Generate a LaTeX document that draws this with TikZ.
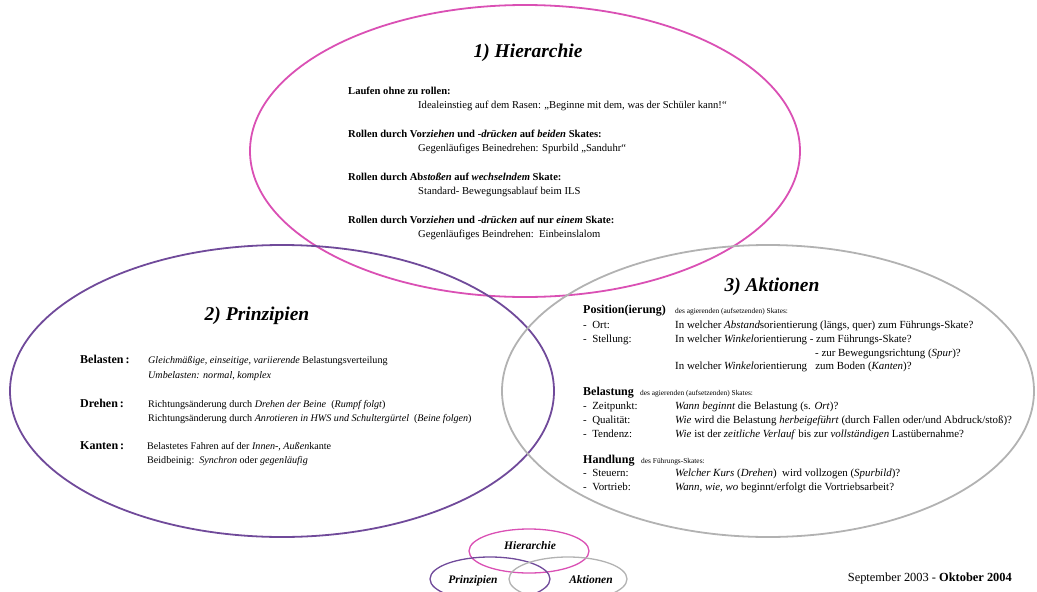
\documentclass[tikz,border=0pt]{standalone}
\usepackage{fontspec}
\setmainfont{Liberation Serif}
\definecolor{pinkc}{RGB}{218,80,180}
\definecolor{purplec}{RGB}{112,74,154}
\definecolor{grayc}{RGB}{178,178,178}
\begin{document}
\begin{tikzpicture}[x=1pt,y=-1pt,
  ring/.style={line width=1.8pt},
  title/.style={font=\fontsize{19.5}{22}\selectfont\bfseries\itshape, anchor=base},
  txth/.style={font=\fontsize{10.6}{12}\selectfont, anchor=base west, inner sep=0pt},
  txtp/.style={font=\fontsize{10.1}{12}\selectfont, anchor=base west, inner sep=0pt},
  txta/.style={font=\fontsize{10.9}{12}\selectfont, anchor=base west, inner sep=0pt},
  head/.style={font=\fontsize{10.6}{12}\selectfont\bfseries, anchor=base west, inner sep=0pt},
  bighead/.style={font=\fontsize{12}{14}\selectfont\bfseries, anchor=base west, inner sep=0pt},
  small/.style={font=\fontsize{7.4}{8}\selectfont, anchor=base west, inner sep=0pt},
  leg/.style={font=\fontsize{11.5}{13}\selectfont\bfseries\itshape, anchor=base},
  sm/.style={line width=1.3pt}]
\useasboundingbox (0,0) rectangle (1037,592);
% main ellipses
\draw[ring, pinkc] (525,151) ellipse [x radius=275, y radius=146];
\draw[ring, purplec] (282,391) ellipse [x radius=272, y radius=146];
\draw[ring, grayc] (768,391) ellipse [x radius=266, y radius=146];
% 1) Hierarchie
\node[title] (t1) at (528,57) {1) Hierarchie};
\node[head] (h1) at (348,94) {Laufen ohne zu rollen:};
\node[txth] (h1a) at (418,108) {Idealeinstieg auf dem Rasen: „Beginne mit dem, was der Schüler kann!“};
\node[head] (h2) at (348,137) {Rollen durch Vor\textit{ziehen} und \textit{-drücken} auf \textit{beiden} Skates:};
\node[txth] (h2a) at (418,151) {Gegenläufiges Beinedrehen: Spurbild „Sanduhr“};
\node[head] (h3) at (348,180) {Rollen durch Ab\textit{stoßen} auf \textit{wechselndem} Skate:};
\node[txth] (h3a) at (418,194) {Standard- Bewegungsablauf beim ILS};
\node[head] (h4) at (348,223) {Rollen durch Vor\textit{ziehen} und \textit{-drücken} auf nur \textit{einem} Skate:};
\node[txth] (h4a) at (418,237) {Gegenläufiges Beindrehen:\ \ Einbeinslalom};
% 2) Prinzipien
\node[title] (t2) at (257,320) {2) Prinzipien};
\node[bighead] (p1) at (80,363) {Belasten\,:};
\node[txtp] (p1a) at (148,363) {\textit{Gleichmäßige, einseitige, variierende} Belastungsverteilung};
\node[txtp] (p1b) at (148,378) {\textit{Umbelasten: normal}, \textit{komplex}};
\node[bighead] (p2) at (80,407) {Drehen\,:};
\node[txtp] (p2a) at (148,407) {Richtungsänderung durch \textit{Drehen der Beine}\ \ (\textit{Rumpf folgt})};
\node[txtp] (p2b) at (148,421) {Richtungsänderung durch \textit{Anrotieren in HWS und Schultergürtel}\ \ (\textit{Beine folgen})};
\node[bighead] (p3) at (80,449) {Kanten\,:};
\node[txtp] (p3a) at (147,449) {Belastetes Fahren auf der \textit{Innen-}, \textit{Außen}kante};
\node[txtp] (p3b) at (147,463) {Beidbeinig:\ \ \textit{Synchron} oder \textit{gegenläufig}};
% 3) Aktionen
\node[title] (t3) at (772,291) {3) Aktionen};
\node[bighead] (a1) at (583,313) {Position(ierung)};
\node[small] (a1s) at (675,313) {des agierenden (aufsetzenden) Skates:};
\node[txta] (a1l1) at (583,328) {-\ \ Ort:};
\node[txta] (a1t1) at (675,328) {In welcher \textit{Abstand}sorientierung (längs, quer) zum Führungs-Skate?};
\node[txta] (a1l2) at (583,342) {-\ \ Stellung:};
\node[txta] (a1t2) at (675,342) {In welcher \textit{Winkel}orientierung - zum Führungs-Skate?};
\node[txta] (a1t3) at (815,356) {- zur Bewegungsrichtung (\textit{Spur})?};
\node[txta] (a1t4) at (675,369) {In welcher \textit{Winkel}orientierung\ \ \ zum Boden (\textit{Kanten})?};
\node[bighead] (a2) at (583,395) {Belastung};
\node[small] (a2s) at (640,395) {des agierenden (aufsetzenden) Skates:};
\node[txta] (a2l1) at (583,409) {-\ \ Zeitpunkt:};
\node[txta] (a2t1) at (675,409) {\textit{Wann beginnt} die Belastung (s. \textit{Ort})?};
\node[txta] (a2l2) at (583,423) {-\ \ Qualität:};
\node[txta] (a2t2) at (675,423) {\textit{Wie} wird die Belastung \textit{herbeigeführt} (durch Fallen oder/und Abdruck/stoß)?};
\node[txta] (a2l3) at (583,437) {-\ \ Tendenz:};
\node[txta] (a2t3) at (675,437) {\textit{Wie} ist der \textit{zeitliche Verlauf} bis zur \textit{vollständigen} Lastübernahme?};
\node[bighead] (a3) at (583,463) {Handlung};
\node[small] (a3s) at (641,463) {des Führungs-Skates:};
\node[txta] (a3l1) at (583,476) {-\ \ Steuern:};
\node[txta] (a3t1) at (675,476) {\textit{Welcher Kurs} (\textit{Drehen})\ \ wird vollzogen (\textit{Spurbild})?};
\node[txta] (a3l2) at (583,490) {-\ \ Vortrieb:};
\node[txta] (a3t2) at (675,490) {\textit{Wann, wie, wo} beginnt/erfolgt die Vortriebsarbeit?};
% legend
\draw[sm, pinkc] (529,551) ellipse [x radius=60, y radius=22];
\draw[sm, purplec] (490,579) ellipse [x radius=60, y radius=22];
\draw[sm, grayc] (568,579) ellipse [x radius=59, y radius=22];
\node[leg] (l1) at (530,549) {Hierarchie};
\node[leg] (l2) at (473,583) {Prinzipien};
\node[leg] (l3) at (591,583) {Aktionen};
\node[txta, anchor=base east, font=\fontsize{12.4}{14}\selectfont] (date) at (1012,581) {September 2003 - \textbf{Oktober 2004}};
\end{tikzpicture}
\end{document}
